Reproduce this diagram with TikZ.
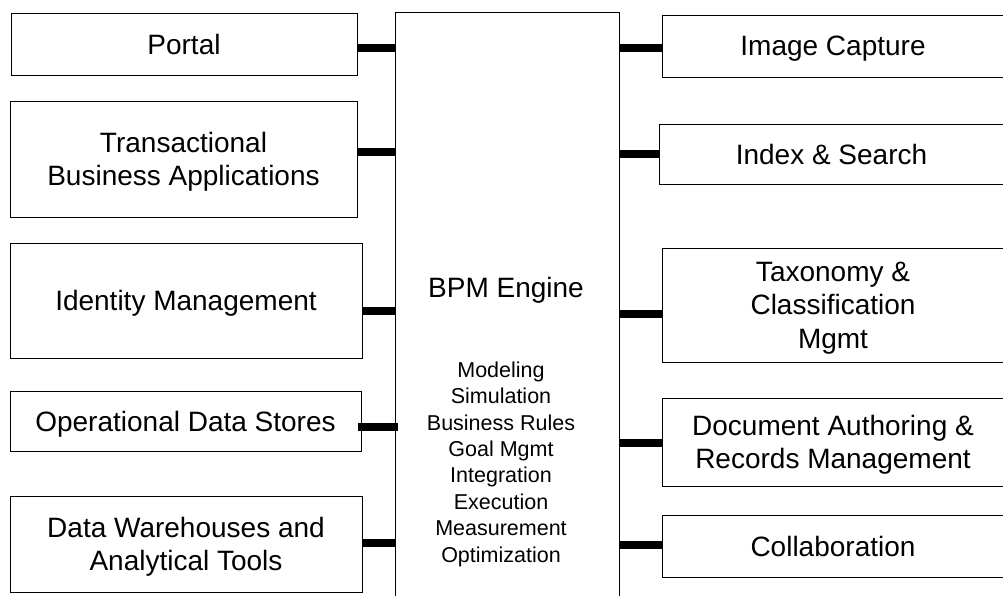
\documentclass[tikz,border=0pt]{standalone}
\usepackage{fontspec}
\setmainfont{Liberation Sans}
\usetikzlibrary{calc}
\tikzset{
  box/.style={draw=black, line width=1pt, rectangle, inner sep=0pt, outer sep=0pt,
    align=center, text depth=0pt, font=\fontsize{28}{33.5}\selectfont},
  conn/.style={line width=7.5pt, black},
  listtext/.style={align=center, inner sep=0pt, font=\fontsize{21.5}{26.4}\selectfont}
}
\begin{document}
\begin{tikzpicture}[x=1pt, y=-1pt]
  \useasboundingbox (0,0) rectangle (1003,595);
  \clip (0,0) rectangle (1003,595);
  \fill[white] (0,0) rectangle (1003,595);

  % central engine
  \node[box, minimum width=224pt, minimum height=600pt, anchor=north] (engine) at (507,12) {};
  \node[box, draw=none] (title) at (506,287) {BPM Engine};
  \node[listtext, anchor=north] (functions) at (501,361.5)
    {Modeling\\Simulation\\Business Rules\\Goal Mgmt\\Integration\\Execution\\Measurement\\Optimization};

  % left-hand systems
  \node[box, minimum width=346pt, minimum height=62pt]  (portal) at (184,44)    {Portal};
  \node[box, minimum width=347pt, minimum height=116pt] (trans)  at (183.5,159) {Transactional\\Business Applications};
  \node[box, minimum width=352pt, minimum height=115pt] (ident)  at (186,300.5) {Identity Management};
  \node[box, minimum width=351pt, minimum height=60pt]  (ods)    at (185.5,421) {Operational Data Stores};
  \node[box, minimum width=352pt, minimum height=96pt]  (dw)     at (186,544)   {Data Warehouses and\\Analytical Tools};

  % right-hand content services
  \node[box, minimum width=342pt, minimum height=62pt]  (imgcap)  at (833,46)    {Image Capture};
  \node[box, minimum width=345pt, minimum height=60pt]  (index)   at (831.5,154) {Index \& Search};
  \node[box, minimum width=342pt, minimum height=114pt] (taxo)    at (833,305)   {Taxonomy \&\\Classification\\Mgmt};
  \node[box, minimum width=342pt, minimum height=88pt]  (docauth) at (833,442)   {Document Authoring \&\\Records Management};
  \node[box, minimum width=342pt, minimum height=62pt]  (collab)  at (833,546)   {Collaboration};

  % connector attachment points
  \coordinate (cPortal) at ($(portal.east)+(0,4)$);
  \coordinate (cTrans)  at ($(trans.east)+(0,-7)$);
  \coordinate (cIdent)  at ($(ident.east)+(0,10.5)$);
  \coordinate (cOds)    at ($(ods.east)+(-3,6)$);
  \coordinate (cDw)     at ($(dw.east)+(0,-1)$);
  \coordinate (cImg)    at ($(imgcap.west)+(0,2)$);
  \coordinate (cIndex)  at ($(index.west)+(0,0)$);
  \coordinate (cTaxo)   at ($(taxo.west)+(0,9)$);
  \coordinate (cDoc)    at ($(docauth.west)+(0,1)$);
  \coordinate (cCollab) at ($(collab.west)+(0,-1)$);

  \draw[conn] (cPortal) -- (cPortal -| engine.west);
  \draw[conn] (cTrans)  -- (cTrans -| engine.west);
  \draw[conn] (cIdent)  -- (cIdent -| engine.west);
  \draw[conn] (cOds)    -- ($(cOds -| engine.west)+(3,0)$);
  \draw[conn] (cDw)     -- (cDw -| engine.west);
  \draw[conn] (engine.east |- cImg)    -- (cImg);
  \draw[conn] (engine.east |- cIndex)  -- (cIndex);
  \draw[conn] (engine.east |- cTaxo)   -- (cTaxo);
  \draw[conn] (engine.east |- cDoc)    -- (cDoc);
  \draw[conn] (engine.east |- cCollab) -- (cCollab);
\end{tikzpicture}
\end{document}
